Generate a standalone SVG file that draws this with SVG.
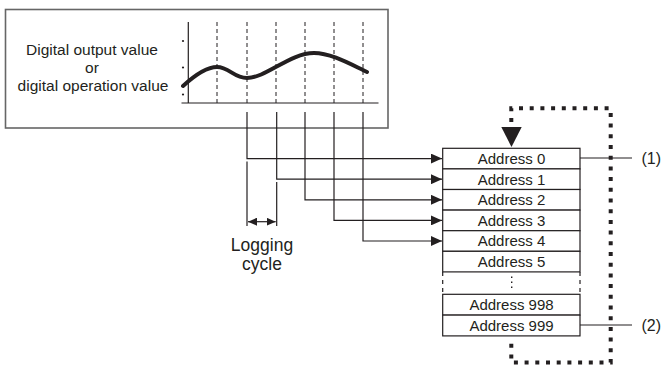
<svg xmlns="http://www.w3.org/2000/svg" width="664" height="367" viewBox="0 0 664 367">
<style>
text{font-family:"Liberation Sans",Arial,sans-serif;fill:#231f20}
.ln{stroke:#231f20;stroke-width:1.2;fill:none}
.dash{stroke:#231f20;stroke-width:1;stroke-dasharray:4 3;fill:none}
.cell{fill:#fff;stroke:#231f20;stroke-width:1.2}
.addr{font-size:15px;text-anchor:middle}
.dot{stroke:#231f20;stroke-width:4;stroke-dasharray:4 6.7;fill:none}
</style>
<defs>
<marker id="ah" markerUnits="userSpaceOnUse" markerWidth="11" markerHeight="10" refX="11" refY="5" orient="auto"><path d="M0,0 L11,5 L0,10 z" fill="#231f20"/></marker>
<marker id="sa" markerUnits="userSpaceOnUse" markerWidth="9" markerHeight="8" refX="9" refY="4" orient="auto-start-reverse"><path d="M0,0 L9,4 L0,8 z" fill="#231f20"/></marker>
</defs>
<g id="graph">
<rect x="5.5" y="9.5" width="382.5" height="118.5" fill="#fff" stroke="#666" stroke-width="1.6"/>
<text x="92" y="55" font-size="15.5" text-anchor="middle">Digital output value</text>
<text x="92" y="73" font-size="15.5" text-anchor="middle">or</text>
<text x="93" y="91" font-size="15.5" text-anchor="middle">digital operation value</text>
<line class="ln" x1="188.3" y1="22" x2="188.3" y2="103"/>
<line class="ln" x1="181.5" y1="103" x2="378.5" y2="103"/>
<circle cx="183" cy="41" r="1.1" fill="#231f20"/>
<circle cx="183" cy="67.5" r="1.1" fill="#231f20"/>
<circle cx="183" cy="94.5" r="1.1" fill="#231f20"/>
<line class="dash" x1="217" y1="22" x2="217" y2="103"/>
<line class="dash" x1="247" y1="22" x2="247" y2="103"/>
<line class="dash" x1="276" y1="22" x2="276" y2="103"/>
<line class="dash" x1="305" y1="22" x2="305" y2="103"/>
<line class="dash" x1="334" y1="22" x2="334" y2="103"/>
<line class="dash" x1="363" y1="22" x2="363" y2="103"/>
<path d="M183,86 C195,75 206,67 217,67 C229,67 234,78 247,78 C266,78 290,53 314,53 C331,53 350,64 367,72" fill="none" stroke="#231f20" stroke-width="4" stroke-linecap="round"/>
</g>
<g id="table">
<rect class="cell" x="442.7" y="148.3" width="137.3" height="20.6"/>
<rect class="cell" x="442.7" y="168.9" width="137.3" height="20.6"/>
<rect class="cell" x="442.7" y="189.5" width="137.3" height="20.6"/>
<rect class="cell" x="442.7" y="210.1" width="137.3" height="20.6"/>
<rect class="cell" x="442.7" y="230.7" width="137.3" height="20.6"/>
<rect class="cell" x="442.7" y="251.3" width="137.3" height="20.6"/>
<rect class="cell" x="442.7" y="294.3" width="137.3" height="20.8"/>
<rect class="cell" x="442.7" y="315.1" width="137.3" height="20.8"/>
<line x1="442.7" y1="272" x2="442.7" y2="294" stroke="#231f20" stroke-width="1.2" stroke-dasharray="4 4"/>
<line x1="580" y1="272" x2="580" y2="294" stroke="#231f20" stroke-width="1.2" stroke-dasharray="4 4"/>
<line x1="511.7" y1="276.5" x2="511.7" y2="290" stroke="#231f20" stroke-width="1.4" stroke-dasharray="1.4 3.6"/>
<text class="addr" x="511.5" y="164">Address 0</text>
<text class="addr" x="511.5" y="184.5">Address 1</text>
<text class="addr" x="511.5" y="205">Address 2</text>
<text class="addr" x="511.5" y="225.7">Address 3</text>
<text class="addr" x="511.5" y="246.3">Address 4</text>
<text class="addr" x="511.5" y="266.9">Address 5</text>
<text class="addr" x="511.5" y="310">Address 998</text>
<text class="addr" x="511.5" y="330.8">Address 999</text>
</g>
<g id="label1">
<text x="641.5" y="164" font-size="16">(1)</text>
</g>
<g id="label2">
<text x="641.5" y="331" font-size="16">(2)</text>
</g>
<g id="logging">
<text x="262" y="251" font-size="17.5" text-anchor="middle">Logging</text>
<text x="262" y="270" font-size="17.5" text-anchor="middle">cycle</text>
</g>
<g id="connectors">
<path class="ln" d="M247,112 V158.6 H442" marker-end="url(#ah)"/>
<path class="ln" d="M276.7,112 V179.2 H442" marker-end="url(#ah)"/>
<path class="ln" d="M305,112 V199.8 H442" marker-end="url(#ah)"/>
<path class="ln" d="M334,112 V220.4 H442" marker-end="url(#ah)"/>
<path class="ln" d="M363,112 V241 H442" marker-end="url(#ah)"/>
<line class="ln" x1="247" y1="161.5" x2="247" y2="226"/>
<line class="ln" x1="276.7" y1="182" x2="276.7" y2="226"/>
<line class="ln" x1="248" y1="221.7" x2="275.7" y2="221.7" marker-start="url(#sa)" marker-end="url(#sa)"/>
<line class="ln" x1="580" y1="158" x2="632" y2="158"/>
<line class="ln" x1="580" y1="325" x2="632" y2="325"/>
<path class="dot" d="M511.3,122 V108.3 H610.7 V362.5 H511.3 V340.5"/>
<polygon points="501.3,127 521.7,127 511.5,147" fill="#231f20"/>
</g>
</svg>
